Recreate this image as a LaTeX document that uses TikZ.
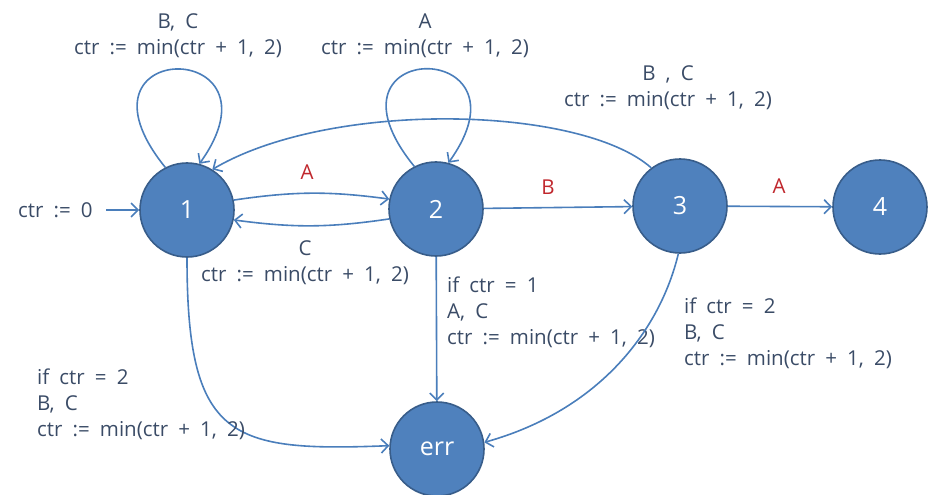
\documentclass[tikz,border=0pt]{standalone}
\usepackage{fontspec}
\setmainfont[WordSpace=1.9]{Open Sans}
\usetikzlibrary{arrows.meta}
\definecolor{stateFill}{HTML}{4F81BD}
\definecolor{stateLine}{HTML}{385D8A}
\definecolor{edgeCol}{HTML}{4A7EBB}
\definecolor{txtCol}{HTML}{3A4B66}
\definecolor{symCol}{HTML}{C0272D}
\begin{document}
\begin{tikzpicture}[x=1pt,y=-1pt,
  state/.style={circle, fill=stateFill, draw=stateLine, line width=1.6pt,
    minimum size=94pt, inner sep=0pt, text=white,
    font=\fontsize{25}{30}\selectfont},
  edge/.style={draw=edgeCol, line width=1.6pt,
    -{Straight Barb[length=7pt,width=14pt]}},
  lbl/.style={text=txtCol, font=\fontsize{20.5}{26}\selectfont,
    inner sep=0pt, align=center},
  lbll/.style={lbl, align=left},
  sym/.style={text=symCol, font=\fontsize{20.5}{26}\selectfont, inner sep=0pt}]
\useasboundingbox (0,0) rectangle (930,495);

% states
\node[state] (n1) at (187,210) {1};
\node[state] (n2) at (436,209) {2};
\node[state] (n3) at (680,206) {3};
\node[state] (n4) at (880,207) {4};
\node[state] (err) at (437,449) {err};

% initial transition
\node[lbl, anchor=west] (init) at (18,210) {ctr := 0};
\coordinate (istart) at (106,210);
\draw[edge] (istart) -- (n1);

% self loops
\draw[edge] (n1.117) .. controls (60,37) and (290,37) .. (n1.75);
\node[lbl] at (178,36) {B, C\\ctr := min(ctr + 1, 2)};
\draw[edge] (n2.117) .. controls (309,37) and (539,37) .. (n2.75);
\node[lbl] at (425,36) {A\\ctr := min(ctr + 1, 2)};

% between 1 and 2
\draw[edge] (n1.12) to[bend left=8] (n2.168);
\node[sym] at (307,172) {A};
\draw[edge] (n2.192) to[bend left=8] (n1.-12);
\node[lbl] at (305,263) {C\\ctr := min(ctr + 1, 2)};

% forward chain
\draw[edge] (n2) -- (n3);
\node[sym] at (548,187) {B};
\draw[edge] (n3) -- (n4);
\node[sym] at (779,186) {A};

% back from 3 to 1
\draw[edge] (n3.127) .. controls (580,105) and (330,100) .. (n1.58);
\node[lbl] at (668,88) {B , C\\ctr := min(ctr + 1, 2)};

% transitions to err
\draw[edge] (n1.270) .. controls (187,440) and (230,452) .. (err.176);
\node[lbll, anchor=west] at (37,404) {if ctr = 2\\B, C\\ctr := min(ctr + 1, 2)};
\draw[edge] (n2) -- (err);
\node[lbll, anchor=west] at (447,312) {if ctr = 1\\A, C\\ctr := min(ctr + 1, 2)};
\draw[edge] (n3.268) .. controls (660,330) and (600,410) .. (err.8);
\node[lbll, anchor=west] at (684,333) {if ctr = 2\\B, C\\ctr := min(ctr + 1, 2)};
\end{tikzpicture}
\end{document}
